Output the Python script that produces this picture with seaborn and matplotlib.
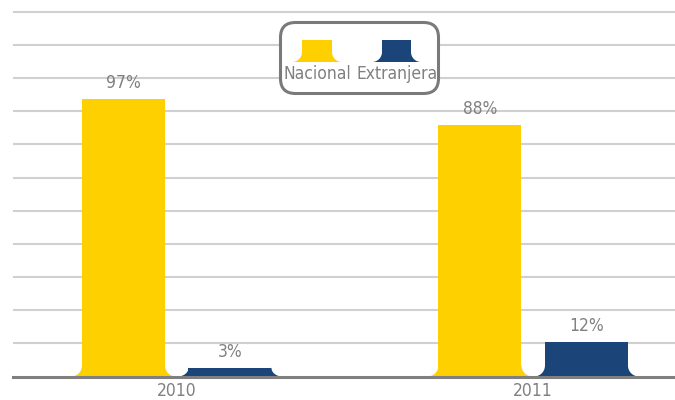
import os
import numpy as np
import pandas as pd
import matplotlib
matplotlib.use("Agg")
import matplotlib.pyplot as plt
import seaborn as sns
from matplotlib import font_manager
from matplotlib.font_manager import FontProperties
from matplotlib.patches import Polygon, FancyBboxPatch
from matplotlib.transforms import IdentityTransform

# Porcentaje de origen por año
anios = ["2010", "2011"]
origenes = ["Nacional", "Extranjera"]
nacional = [97, 88]
extranjera = [3, 12]
colores = ["#FFD000", "#1B4478"]

df = pd.DataFrame({
    "Año": anios * 2,
    "Origen": [origenes[0]] * len(anios) + [origenes[1]] * len(anios),
    "Porcentaje": nacional + extranjera,
})

sns.set_theme(style="white")
plt.rcParams["font.family"] = ["DejaVu Sans"]

W, H = 675, 400
GRIS = "#808080"
FS = 12.5


def fuente_estrecha(size):
    """Busca una fuente estrecha instalada; si no hay, usa DejaVu Sans."""
    preferidas = ["LiberationSansNarrow-Regular", "DejaVuSansCondensed.",
                  "OpenSans_Condensed-Regular", "OpenSansCondensed",
                  "Roboto_Condensed-Regular", "RobotoCondensed-Regular"]
    archivos = [f.fname for f in font_manager.fontManager.ttflist]
    for pref in preferidas:
        for fn in archivos:
            if pref in os.path.basename(fn):
                return FontProperties(fname=fn, size=size)
    return FontProperties(family="DejaVu Sans", size=size * 0.8)


fp = fuente_estrecha(FS)

fig = plt.figure(figsize=(W / 100, H / 100), dpi=100)
ax_w, ax_h = 662, 371.5
ax = fig.add_axes([13 / W, 23.5 / H, ax_w / W, ax_h / H])

sns.barplot(data=df, x="Año", y="Porcentaje", hue="Origen", hue_order=origenes,
            palette=colores, width=0.5975, gap=0.2207, saturation=1,
            legend=False, ax=ax, linewidth=0)

xlim = (-0.4593, 1.3977)
ylim = (0, 129.9)
ax.set_xlim(*xlim)
ax.set_ylim(*ylim)
step = 11.59
ax.set_yticks(np.arange(1, 12) * step)
ax.yaxis.grid(True, color="#d0d0d0", lw=1.5)
ax.xaxis.grid(False)
ax.set_axisbelow(True)
ax.tick_params(axis="y", left=False, labelleft=False)
ax.tick_params(axis="x", length=0, pad=4, labelcolor=GRIS)
for lbl in ax.get_xticklabels():
    lbl.set_fontproperties(fp)
ax.set_xlabel("")
ax.set_ylabel("")
for s in ("top", "left", "right"):
    ax.spines[s].set_visible(False)
ax.spines["bottom"].set_color("#7f7f7f")
ax.spines["bottom"].set_linewidth(2.2)
ax.spines["bottom"].set_zorder(3)

# Etiquetas de valor sobre cada barra
for cont in ax.containers:
    ax.bar_label(cont, labels=[f"{v:.0f}%" for v in cont.datavalues],
                 padding=5, color=GRIS, fontproperties=fp)


def fillets(x0, x1, rx, ry, eps, n=24):
    t = np.linspace(0, np.pi / 2, n)
    left = np.column_stack([x0 - rx + rx * np.sin(t), ry - ry * np.cos(t)])
    left = np.vstack([left, [x0 + eps, ry], [x0 + eps, 0]])
    right = np.column_stack([x1 + rx - rx * np.sin(t), ry - ry * np.cos(t)])
    right = np.vstack([right, [x1 - eps, ry], [x1 - eps, 0]])
    return left, right


# Base curvada de cada barra
px_x = ax_w / (xlim[1] - xlim[0])
px_y = ax_h / (ylim[1] - ylim[0])
R = 11
for p in list(ax.patches):
    x0 = p.get_x()
    x1 = x0 + p.get_width()
    h = p.get_height()
    rx = R / px_x
    ry = min(R / px_y, h)
    for pts in fillets(x0, x1, rx, ry, 1 / px_x):
        ax.add_patch(Polygon(pts, closed=True, fc=p.get_facecolor(), lw=0,
                             zorder=p.get_zorder()))

# Leyenda con recuadro redondeado
ident = IdentityTransform()
box = FancyBboxPatch((280.5, H - 93.5), 158, 71,
                     boxstyle="round,pad=0,rounding_size=15",
                     transform=ident, fc="white", ec="#7a7a7a", lw=2.2)
fig.add_artist(box)

iconos = [(302, 332, 317), (382, 411, 397)]
for (bx0, bx1, tx), color, nombre in zip(iconos, colores, origenes):
    izq, der = fillets(bx0, bx1, 10, 10, 0.5)
    fig.add_artist(Polygon(np.column_stack([[bx0, bx0, bx1, bx1],
                                            [H - 62, H - 40, H - 40, H - 62]]),
                           closed=True, transform=ident, fc=color, lw=0))
    for pts in (izq, der):
        fig.add_artist(Polygon(pts + [0, H - 62], closed=True,
                               transform=ident, fc=color, lw=0))
    fig.text(tx / W, 1 - 74 / H, nombre, ha="center", va="center",
             color=GRIS, fontproperties=fp)

fig.savefig("out.png", dpi=100)
